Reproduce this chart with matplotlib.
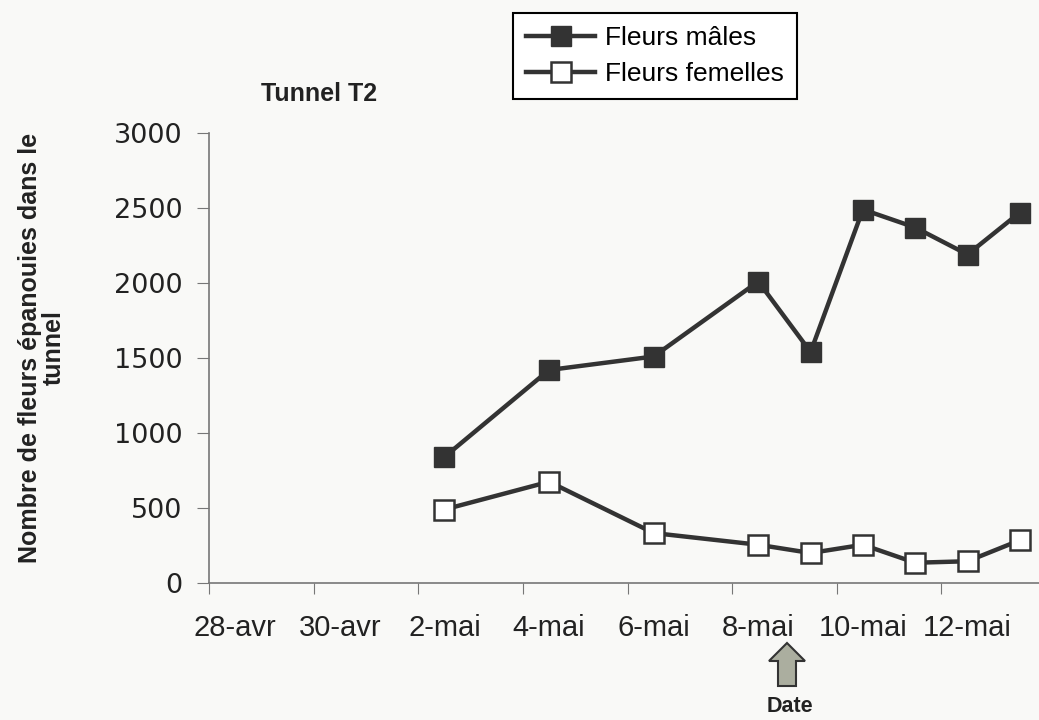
import matplotlib
matplotlib.use('Agg')
import matplotlib.pyplot as plt
import matplotlib.dates as mdates
import matplotlib.patches as mpatches
import pandas as pd

# Données
jours = ['2005-05-02', '2005-05-04', '2005-05-06', '2005-05-08', '2005-05-09',
         '2005-05-10', '2005-05-11', '2005-05-12', '2005-05-13']
males = [840, 1420, 1510, 2010, 1540, 2490, 2370, 2190, 2470]
femelles = [490, 675, 333, 255, 200, 255, 135, 145, 285]
etiquettes_x = ['28-avr', '30-avr', '2-mai', '4-mai', '6-mai', '8-mai', '10-mai', '12-mai']

W, H = 1039, 720
fond = '#f9f9f7'
gris = '#333333'
arial = 'Liberation Sans'

fig = plt.figure(figsize=(W / 100, H / 100), dpi=100, facecolor=fond)
ax = fig.add_axes([209 / W, 1 - 583 / H, (1046 - 209) / W, 450 / H])
ax.set_facecolor(fond)

debut = pd.Timestamp('2005-04-28')
x = mdates.date2num(pd.to_datetime(jours) + pd.Timedelta(hours=12))

ax.plot(x, males, color=gris, lw=3.2, marker='s', ms=14.5, mfc=gris, mec=gris,
        label='Fleurs mâles', clip_on=False)
ax.plot(x, femelles, color=gris, lw=3.2, marker='s', ms=14.5, mfc='white', mec=gris,
        mew=1.8, label='Fleurs femelles', clip_on=False)

ax.set_xlim(mdates.date2num(debut), mdates.date2num(debut + pd.Timedelta(days=16)))
ax.set_ylim(0, 3000)

majeurs = pd.date_range(debut, periods=len(etiquettes_x), freq='2D')
ax.set_xticks(mdates.date2num(majeurs))
ax.set_xticklabels([])
ax.set_xticks(mdates.date2num(majeurs + pd.Timedelta(hours=12)), minor=True)
ax.set_xticklabels(etiquettes_x, minor=True, fontsize=21, family=arial, color='#222222')
ax.tick_params(axis='x', which='major', length=8, color='#777777', direction='out')
ax.tick_params(axis='x', which='minor', length=0, pad=22)

ax.set_yticks([0, 500, 1000, 1500, 2000, 2500, 3000])
ax.tick_params(axis='y', length=9, color='#777777', labelsize=19.5, pad=10, labelcolor='#222222')
for lab in ax.get_yticklabels():
    lab.set_family('DejaVu Sans')

for s in ['top', 'right']:
    ax.spines[s].set_visible(False)
for s in ['left', 'bottom']:
    ax.spines[s].set_color('#777777')
    ax.spines[s].set_linewidth(1.2)

# Titres
fig.text(319 / W, 1 - 94 / H, 'Tunnel T2', ha='center', va='center',
         fontsize=18, fontweight='bold', family=arial, color='#222222')
fig.text(42 / W, 1 - 348 / H, 'Nombre de fleurs épanouies dans le\ntunnel',
         rotation=90, ha='center', va='center', multialignment='center',
         fontsize=18, fontweight='bold', family=arial, color='#222222',
         linespacing=1.0)
fig.text(790 / W, 1 - 706 / H, 'Date', ha='center', va='center',
         fontsize=15.5, fontweight='bold', family=arial, color='#222222')

# Légende
leg = fig.legend(loc='upper left', bbox_to_anchor=(513 / W, 1 - 13 / H),
                 prop={'family': arial, 'size': 19}, fancybox=False,
                 edgecolor='black', facecolor='white', framealpha=1,
                 handlelength=2.6, handletextpad=0.4, borderpad=0.5,
                 labelspacing=0.45, borderaxespad=0)
leg.get_frame().set_linewidth(1.5)

# Flèche sous l'axe
px = [(778, 686), (796, 686), (796, 661), (805, 661), (787, 643), (769, 661), (778, 661)]
fleche = mpatches.Polygon([(a / W, 1 - b / H) for a, b in px], closed=True,
                          transform=fig.transFigure, facecolor='#abae9f',
                          edgecolor=gris, lw=1.5)
fig.patches.append(fleche)

plt.savefig('out.png', dpi=100, facecolor=fond)
